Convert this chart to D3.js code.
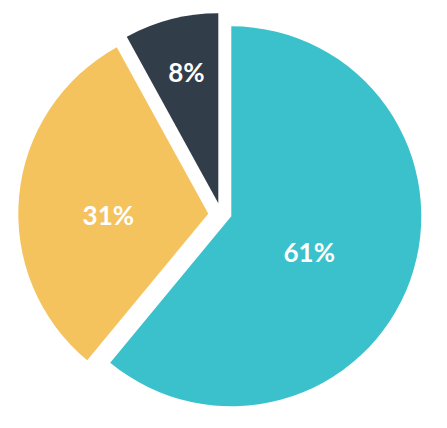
<!DOCTYPE html>
<html>
<head>
<meta charset="utf-8">
<script src="https://cdn.jsdelivr.net/npm/d3@7"></script>
<style>
  body { margin: 0; background: #fff; }
</style>
</head>
<body>
<div id="chart"></div>
<script>
// data
var labels = ["61%", "31%", "8%"];
var values = [61, 31, 8];
var colors = ["#3bc1cb", "#f5c35e", "#323d4a"];

// layout
var width = 447, height = 428;
var cx = 231.3, cy = 216.3, radius = 190;
// how far each slice is pulled out of the pie
var shift = [[0, 0], [-23, -2.5], [-13, -13]];
// label spot from each slice's tip: distance, angle (deg, clockwise from top)
var labelR = [86, 100, 135];
var labelA = [115, 268.7, 346.3];

var svg = d3.select("#chart")
  .append("svg")
    .attr("width", width)
    .attr("height", height)
  .append("g")
    .attr("transform", "translate(" + cx + "," + cy + ")");

var pie = d3.pie().sort(null).value(function(d) { return d; });
var arc = d3.arc().innerRadius(0).outerRadius(radius);

var slices = svg.selectAll("g.slice")
  .data(pie(values))
  .enter()
  .append("g")
    .attr("class", "slice")
    .attr("transform", function(d, i) { return "translate(" + shift[i][0] + "," + shift[i][1] + ")"; });

slices.append("path")
  .attr("d", arc)
  .attr("fill", function(d, i) { return colors[i]; });

slices.append("text")
  .attr("transform", function(d, i) {
    var a = labelA[i] * Math.PI / 180;
    return "translate(" + (Math.sin(a) * labelR[i]) + "," + (-Math.cos(a) * labelR[i]) + ")";
  })
  .attr("text-anchor", "middle")
  .attr("dy", "0.36em")
  .attr("fill", "#fff")
  .style("font-family", "Lato, sans-serif")
  .style("font-weight", "bold")
  .style("font-size", "26px")
  .text(function(d, i) { return labels[i]; });
</script>
</body>
</html>
